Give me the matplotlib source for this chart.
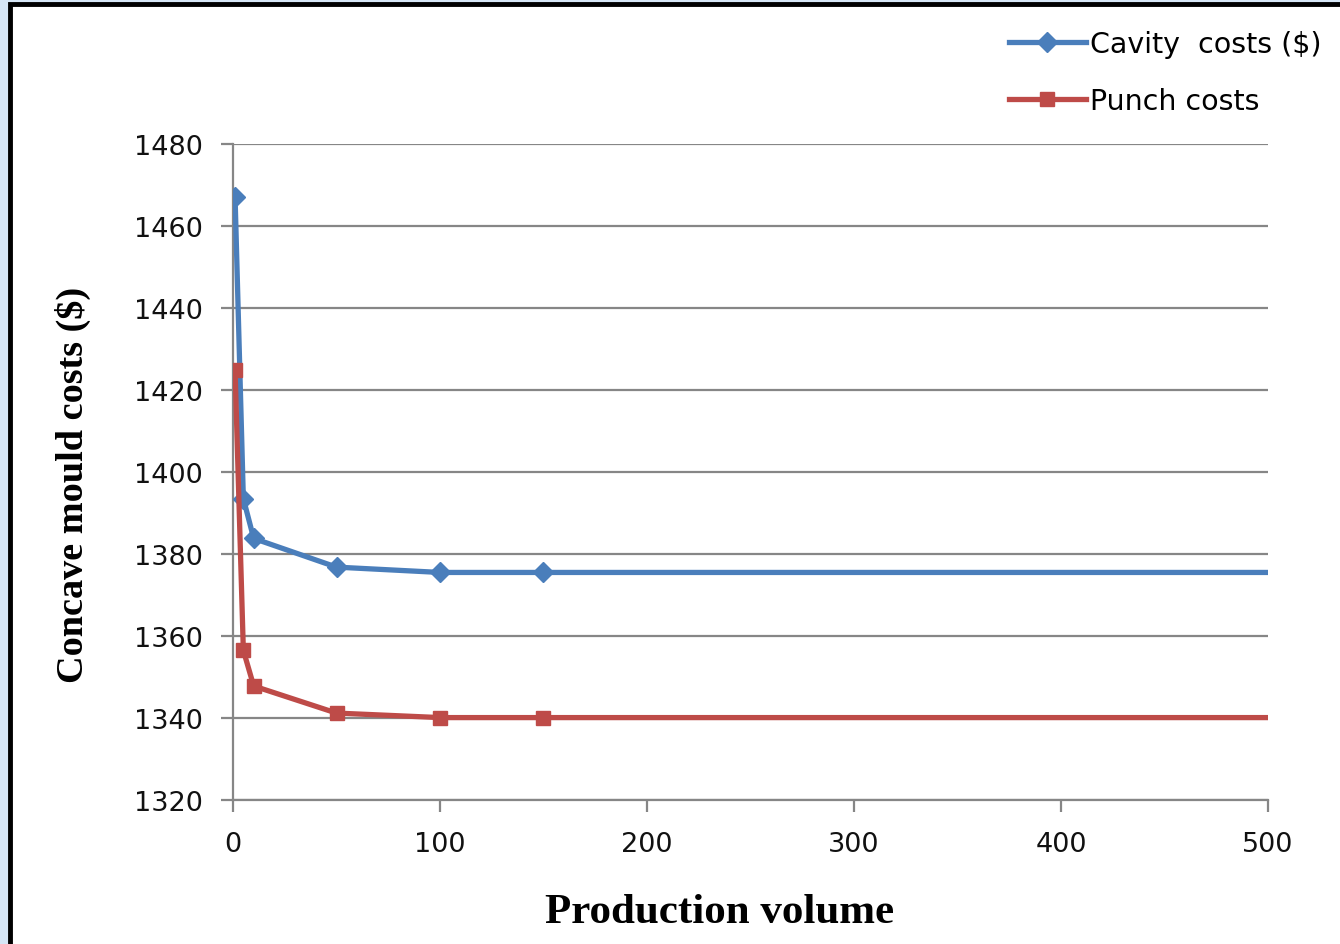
import numpy as np
import matplotlib.pyplot as plt
from matplotlib.patches import Rectangle

# production volume and costs
volume = [1, 5, 10, 50, 100, 150, 500]
cavity_costs = [1467, 1393.5, 1383.8, 1376.8, 1375.5, 1375.5, 1375.5]
punch_costs = [1424.8, 1356.5, 1347.8, 1341.2, 1340.1, 1340.1, 1340.1]

blue = '#4a7ebb'
red = '#be4b48'
grey = '#868686'

fig = plt.figure(figsize=(13.4, 9.45), dpi=100)
fig.patch.set_facecolor('#d6e6f6')
# white panel with black frame
fig.add_artist(Rectangle((10 / 1340, -0.05), 1.1, 1 - 5 / 945 + 0.05,
                         transform=fig.transFigure, facecolor='white',
                         edgecolor='black', linewidth=3.5, zorder=0))

ax = fig.add_axes([233 / 1340, 1 - 801 / 945, (1268 - 233) / 1340, (801 - 145) / 945])
ax.set_facecolor('none')

ax.plot(volume, cavity_costs, color=blue, lw=3.8, marker='D', ms=10,
        markevery=range(6), label='Cavity  costs ($)', zorder=3)
ax.plot(volume, punch_costs, color=red, lw=3.8, marker='s', ms=10,
        markevery=range(6), label='Punch costs', zorder=3)

ax.set_xlim(0, 500)
ax.set_ylim(1320, 1480)
ax.set_xticks(np.arange(0, 501, 100))
ax.set_yticks(np.arange(1320, 1481, 20))
ax.grid(axis='y', color=grey, lw=1.6)
ax.set_axisbelow(True)
for s in ['top', 'right']:
    ax.spines[s].set_visible(False)
for s in ['left', 'bottom']:
    ax.spines[s].set_color(grey)
    ax.spines[s].set_linewidth(1.6)
ax.tick_params(colors=grey, width=1.6, length=8.5, labelsize=19.5,
               labelcolor='#111111')
ax.tick_params(axis='y', pad=13)
ax.tick_params(axis='x', pad=14)

ax.set_xlabel('Production volume', family='Liberation Serif', fontweight='bold',
              fontsize=31)
ax.set_ylabel('Concave mould costs ($)', family='Liberation Serif', fontweight='bold',
              fontsize=27.5)
ax.xaxis.set_label_coords((720 - 233) / 1035, -(913 - 801) / 656)
ax.yaxis.set_label_coords(-(233 - 73) / 1035, (801 - 485) / 656)
ax.xaxis.label.set_va('center')
ax.yaxis.label.set_va('center')

fig.legend(loc='upper right', bbox_to_anchor=(1333 / 1340, 1 - 20 / 945),
           frameon=False, fontsize=20.5, handlelength=2.7, handletextpad=0.15,
           labelspacing=1.0, borderaxespad=0)

plt.savefig('out.png', dpi=100)
